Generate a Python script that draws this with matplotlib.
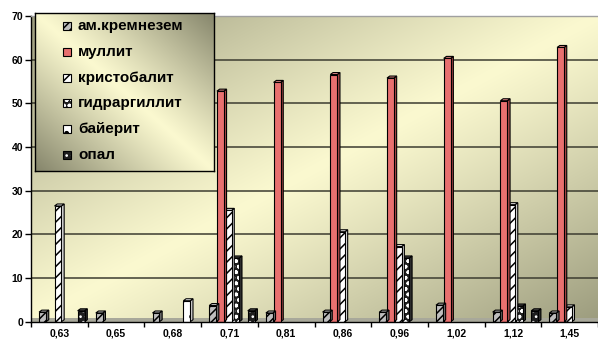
import matplotlib
matplotlib.use('Agg')
import matplotlib.pyplot as plt
import numpy as np
from matplotlib.patches import Polygon, Rectangle
from matplotlib.colors import to_rgb

# ---------------- data ----------------
categories = ['0,63', '0,65', '0,68', '0,71', '0,81', '0,86', '0,96', '1,02', '1,12', '1,45']
series_names = ['ам.кремнезем', 'муллит', 'кристобалит', 'гидраргиллит', 'байерит', 'опал']
am_kremnezem = [2.2, 2.0, 2.0, 3.7, 2.0, 2.2, 2.2, 3.8, 2.2, 2.0]
mullit = [0, 0, 0, 52.8, 54.8, 56.6, 55.8, 60.3, 50.6, 62.8]
kristobalit = [26.5, 0, 0, 25.5, 0, 20.6, 17.2, 0, 26.8, 3.4]
gidrargillit = [0, 0, 0, 14.6, 0, 0, 14.6, 0, 3.6, 0]
bayerit = [0, 0, 4.8, 0, 0, 0, 0, 0, 0, 0]
opal = [2.5, 0, 0, 2.5, 0, 0, 0, 0, 2.5, 0]
yticks = [0, 10, 20, 30, 40, 50, 60, 70]

series_values = [am_kremnezem, mullit, kristobalit, gidrargillit, bayerit, opal]

# styles: face, hatch, hatch colour, side colour, top colour
styles = [
    dict(face='#BEBEBE', hatch='////', hc='#000000', side='#6E6E6E', top='#D0D0D0'),
    dict(face='#E8706F', hatch=None, hc=None, side='#A84545', top='#F09090'),
    dict(face='#FFFFFF', hatch='///', hc='#000000', side='#D8D8D8', top='#FFFFFF'),
    dict(face='#1E1E1E', hatch='ooo', hc='#FFFFFF', side='#303030', top='#505050'),
    dict(face='#FFFFFF', hatch='.', hc='#000000', side='#D0D0D0', top='#FFFFFF'),
    dict(face='#1E1E1E', hatch='...', hc='#FFFFFF', side='#303030', top='#505050'),
]

plt.rcParams['font.family'] = ['Liberation Sans', 'DejaVu Sans']
plt.rcParams['hatch.linewidth'] = 1.1

W, H = 598, 343
fig = plt.figure(figsize=(W / 100, H / 100), dpi=100)
fig.patch.set_facecolor('white')

ax = fig.add_axes([31 / W, 21.3 / H, (W - 31) / W, (321.7 - 16) / H])

# plot-area gradient (dark at top-left and bottom-right, light on anti-diagonal)
light = np.array(to_rgb('#FBF9D0'))
dark = np.array(to_rgb('#9C9C7E'))
nx, ny = 300, 200
X, Y = np.meshgrid(np.linspace(0, 1, nx), np.linspace(0, 1, ny))
s = (X + (1 - Y)) / 2
t = np.clip(np.abs(s - 0.5) * 2, 0, 1) ** 1.1
img = light[None, None, :] * (1 - t[..., None]) + dark[None, None, :] * t[..., None]
ax.imshow(img, extent=[0, 1, 0, 1], transform=ax.transAxes, origin='lower',
          aspect='auto', zorder=0, interpolation='bilinear')

n = len(categories)
xpos = np.arange(n)
w = 0.122
dx = 0.048
dy = 0.45
step = 0.136
first = -0.296

# floor
ax.axhspan(0, 0.85, color='#A8A89A', zorder=1, lw=0)

for k, (vals, st) in enumerate(zip(series_values, styles)):
    z = 10 - k
    xs = xpos + first + step * k
    vals = np.array(vals, dtype=float)
    mask = vals > 0
    xs_m = xs[mask]
    v_m = vals[mask]
    # side and top faces
    for c, h in zip(xs_m, v_m):
        r = c + w / 2
        l = c - w / 2
        side = Polygon([(r, 0), (r + dx, dy), (r + dx, h + dy), (r, h)], closed=True,
                       facecolor=st['side'], edgecolor='black', lw=0.8, zorder=z)
        top = Polygon([(l, h), (l + dx, h + dy), (r + dx, h + dy), (r, h)], closed=True,
                      facecolor=st['top'], edgecolor='black', lw=0.8, zorder=z)
        ax.add_patch(side)
        ax.add_patch(top)
    if st['hatch']:
        ax.bar(xs_m, v_m, w, color=st['face'], edgecolor=st['hc'], hatch=st['hatch'],
               lw=0, zorder=z)
        ax.bar(xs_m, v_m, w, fill=False, edgecolor='black', lw=0.8, zorder=z)
    else:
        ax.bar(xs_m, v_m, w, color=st['face'], edgecolor='black', lw=0.8, zorder=z)

ax.set_xlim(-0.49, 9.41)
ax.set_ylim(0, 70)

ax.set_yticks(yticks)
ax.set_yticklabels([str(v) for v in yticks], fontsize=7.5, fontweight='bold')
ax.yaxis.grid(True, color='#3C3C30', lw=1.1, zorder=2)
ax.set_axisbelow(False)
for gl in ax.get_ygridlines():
    gl.set_zorder(2)
ax.get_ygridlines()[-1].set_visible(False)
ax.get_ygridlines()[0].set_visible(False)
ax.tick_params(axis='y', length=4, width=1, pad=1.5, color='black')

ax.set_xticks(xpos)
ax.set_xticklabels(categories, fontsize=7.5, fontweight='bold')
ax.set_xticks(np.arange(-0.5, n, 1.0), minor=True)
ax.tick_params(axis='x', which='major', length=0, pad=5)
ax.tick_params(axis='x', which='minor', length=3.5, width=1, color='black')

ax.spines['right'].set_visible(False)
ax.spines['top'].set_color('#A0A0A0')
ax.spines['top'].set_linewidth(1.0)
ax.spines['left'].set_color('black')
ax.spines['left'].set_linewidth(1.0)
ax.spines['bottom'].set_color('black')
ax.spines['bottom'].set_linewidth(1.0)
for sp in ax.spines.values():
    sp.set_zorder(20)

# ---------------- legend ----------------
lx0, lx1, ly0, ly1 = 35, 214, 13, 171
lax = fig.add_axes([lx0 / W, 1 - ly1 / H, (lx1 - lx0) / W, (ly1 - ly0) / H])
ldark = np.array(to_rgb('#85856B'))
lX, lY = np.meshgrid(np.linspace(0, 1, 200), np.linspace(0, 1, 200))
ls = (lX + lY) / 2
lt = np.clip(np.abs(ls - 0.5) * 2, 0, 1) ** 1.1
limg = light[None, None, :] * (1 - lt[..., None]) + ldark[None, None, :] * lt[..., None]
lax.imshow(limg, extent=[0, 1, 0, 1], origin='lower', aspect='auto', interpolation='bilinear')
lax.set_xlim(0, 1)
lax.set_ylim(0, 1)
lax.set_xticks([])
lax.set_yticks([])
for sp in lax.spines.values():
    sp.set_color('black')
    sp.set_linewidth(1.0)

iw = 8 / (lx1 - lx0)
ih = 8 / (ly1 - ly0)
ix = (63 - lx0) / (lx1 - lx0)
tx = (78 - lx0) / (lx1 - lx0)
for k, (name, st) in enumerate(zip(series_names, styles)):
    yc = 0.918 - k * 0.1634
    if st['hatch']:
        lax.add_patch(Rectangle((ix, yc - ih / 2), iw, ih, facecolor=st['face'],
                                edgecolor=st['hc'], hatch=st['hatch'], lw=0, zorder=3))
        lax.add_patch(Rectangle((ix, yc - ih / 2), iw, ih, fill=False,
                                edgecolor='black', lw=0.8, zorder=4))
    else:
        lax.add_patch(Rectangle((ix, yc - ih / 2), iw, ih, facecolor=st['face'],
                                edgecolor='black', lw=0.8, zorder=3))
    lax.text(tx, yc, name, fontsize=11, fontweight='bold', va='center', ha='left',
             zorder=5)

fig.savefig('out.png', dpi=100)
